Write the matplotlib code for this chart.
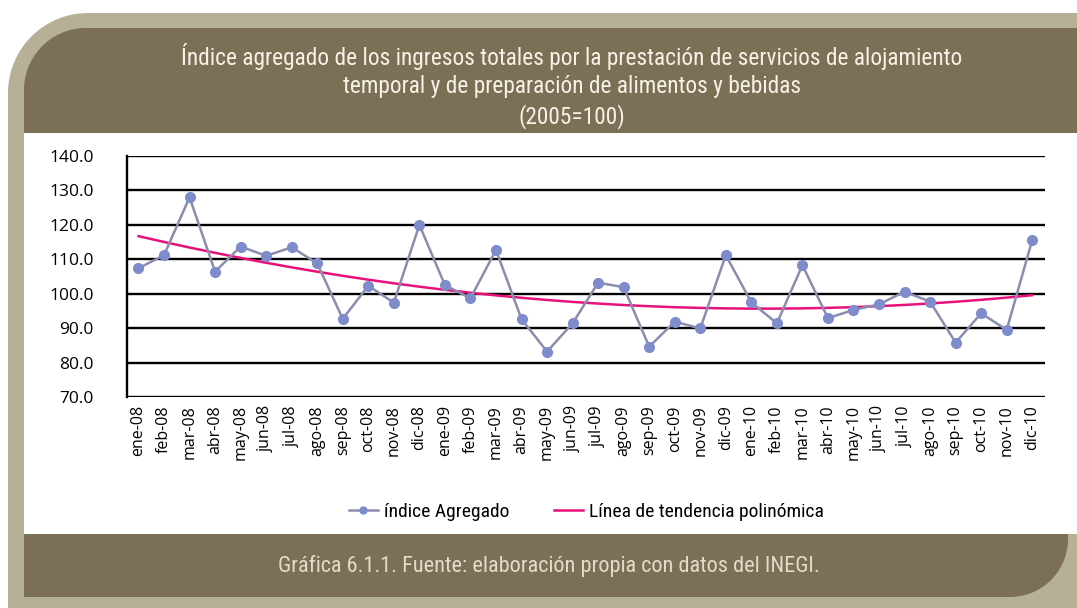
import numpy as np
import matplotlib
matplotlib.use("Agg")
import matplotlib.pyplot as plt
from matplotlib.patches import Polygon
from matplotlib.lines import Line2D
from matplotlib import font_manager

# ---------------- data ----------------
months = ["ene-08", "feb-08", "mar-08", "abr-08", "may-08", "jun-08", "jul-08", "ago-08",
          "sep-08", "oct-08", "nov-08", "dic-08",
          "ene-09", "feb-09", "mar-09", "abr-09", "may-09", "jun-09", "jul-09", "ago-09",
          "sep-09", "oct-09", "nov-09", "dic-09",
          "ene-10", "feb-10", "mar-10", "abr-10", "may-10", "jun-10", "jul-10", "ago-10",
          "sep-10", "oct-10", "nov-10", "dic-10"]
indice = [107.4, 111.2, 128.0, 106.4, 113.7, 111.0, 113.5, 108.8, 92.7, 102.3, 97.4, 120.0,
          102.5, 98.7, 112.7, 92.6, 83.2, 91.4, 103.2, 101.9, 84.6, 91.9, 89.9, 111.2,
          97.5, 91.4, 108.3, 92.9, 95.3, 96.9, 100.6, 97.7, 85.8, 94.3, 89.5, 115.6]
yticks = [70, 80, 90, 100, 110, 120, 130, 140]
title_lines = ["Índice agregado de los ingresos totales por la prestación de servicios de alojamiento",
               "temporal y de preparación de alimentos y bebidas",
               "(2005=100)"]
footer = "Gráfica 6.1.1. Fuente: elaboración propia con datos del INEGI."

# ---------------- fonts ----------------
available = {f.name for f in font_manager.fontManager.ttflist}
def pick(cands):
    for c in cands:
        if c in available:
            return c
    return "DejaVu Sans"
narrow = pick(["Liberation Sans Narrow", "DejaVu Sans Condensed", "Roboto Condensed",
               "Open Sans Condensed", "Liberation Sans"])
body = pick(["Open Sans", "Noto Sans", "Lato", "DejaVu Sans"])
narrow_fam = [narrow, "DejaVu Sans"]

W, H = 1077, 608
fig = plt.figure(figsize=(W / 100, H / 100), dpi=100)
fig.patch.set_facecolor("white")

BORDER = "#b6b097"
DARK = "#7b7056"

def rounded(x0, y0, x1, y1, tl=0, tr=0, br=0, bl=0, n=30):
    """Polygon in pixel coords (y from top) with per-corner radius -> figure fraction."""
    pts = []
    def arc(cx, cy, r, a0, a1):
        for a in np.linspace(a0, a1, n):
            pts.append((cx + r * np.cos(a), cy + r * np.sin(a)))
    if tl: arc(x0 + tl, y0 + tl, tl, np.pi, 1.5 * np.pi)
    else: pts.append((x0, y0))
    if tr: arc(x1 - tr, y0 + tr, tr, 1.5 * np.pi, 2 * np.pi)
    else: pts.append((x1, y0))
    if br: arc(x1 - br, y1 - br, br, 0, 0.5 * np.pi)
    else: pts.append((x1, y1))
    if bl: arc(x0 + bl, y1 - bl, bl, 0.5 * np.pi, np.pi)
    else: pts.append((x0, y1))
    pts = np.array(pts)
    return np.column_stack([pts[:, 0] / W, 1 - pts[:, 1] / H])

def add_shape(pts, color, z):
    fig.add_artist(Polygon(pts, closed=True, transform=fig.transFigure,
                           facecolor=color, edgecolor="none", zorder=z))

add_shape(rounded(8, 13, W + 10, H + 10, tl=80), BORDER, 0)
add_shape(rounded(24, 133, W + 10, 534), "white", 1)
add_shape(rounded(24, 28, W + 10, 133, tl=62), DARK, 2)
add_shape(rounded(24, 534, 1068, 597, br=58), DARK, 2)

# ---------------- axes ----------------
ax = fig.add_axes([127 / W, 1 - 397 / H, (1045 - 127) / W, (397 - 156) / H])
ax.set_zorder(5)
ax.patch.set_alpha(0)
x = np.arange(len(months))

coef = np.polyfit(x, indice, 2)
trend = np.polyval(coef, x)

ax.plot(x, trend, color="#e8107a", lw=1.8, zorder=3)
ax.plot(x, indice, color="#8c8cae", lw=1.8, marker="o", markersize=7,
        markerfacecolor="#7f8ccb", markeredgecolor="#7f8ccb", zorder=4)

ax.set_ylim(70, 140)
ax.set_xlim(-0.45, 35.5)
ax.set_yticks(yticks)
ax.set_yticklabels([f"{v:.1f}" for v in yticks], fontsize=12.5, family=body)
ax.set_xticks(x)
ax.set_xticklabels(months, rotation=90, fontsize=11.5, family=body)
ax.tick_params(axis="y", length=0, pad=24)
ax.tick_params(axis="x", length=0, pad=6)
for s in ["top", "right", "bottom"]:
    ax.spines[s].set_visible(False)
ax.spines["left"].set_linewidth(1.7)
ax.spines["left"].set_color("black")
ax.yaxis.grid(True, color="black", lw=1.7)
ax.set_axisbelow(True)

# ---------------- texts ----------------
for i, line in enumerate(title_lines):
    fig.text(572 / W, 1 - (57 + 30 * i) / H, line, ha="center", va="center",
             color="#f7f2e6", fontsize=16.8, family=narrow_fam, zorder=6)

fig.text(549 / W, 1 - 566 / H, footer, ha="center", va="center",
         color="#e2dccb", fontsize=16, family=narrow_fam, zorder=6)

handles = [Line2D([], [], color="#8c8cae", lw=1.8, marker="o", markersize=5,
                  markerfacecolor="#7f8ccb", markeredgecolor="#7f8ccb"),
           Line2D([], [], color="#e8107a", lw=1.8)]
fig.legend(handles, ["índice Agregado", "Línea de tendencia polinómica"],
           loc="center", bbox_to_anchor=(586 / W, 1 - 512 / H), ncol=2, frameon=False,
           prop={"family": narrow_fam, "size": 14}, handlelength=1.5, handletextpad=0.3,
           columnspacing=2.3)

fig.savefig("out.png", dpi=100)
